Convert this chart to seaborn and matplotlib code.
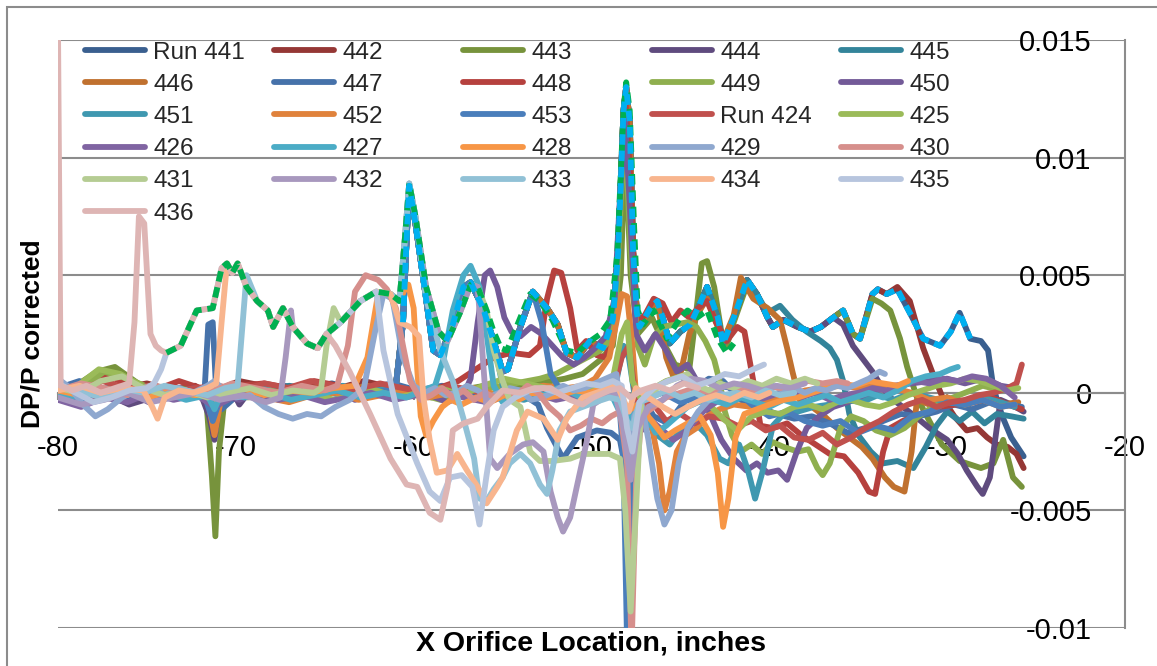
import matplotlib
matplotlib.use("Agg")
import matplotlib.pyplot as plt
import seaborn as sns
from matplotlib.lines import Line2D
from matplotlib.patches import Rectangle

sns.set_theme(style="white")
plt.rcParams["font.family"] = ["Liberation Sans", "DejaVu Sans"]
plt.rcParams["lines.solid_capstyle"] = "round"
plt.rcParams["lines.solid_joinstyle"] = "round"

# ---------------------------------------------------------------------------
# Data (DP/P values in units of 1e-3, x in inches)
# ---------------------------------------------------------------------------
X_TICKS = [-80, -70, -60, -50, -40, -30, -20]
X_TICK_LABELS = ["-80", "-70", "-60", "-50", "-40", "-30", "-20"]
Y_TICKS = [0.015, 0.01, 0.005, 0.0, -0.005, -0.01]
Y_TICK_LABELS = ["0.015", "0.01", "0.005", "0", "-0.005", "-0.01"]

# shared upstream ridge traced by the 424-436 runs (green dashed)
GREEN_X = [-73.9, -73.1, -72.2, -71.3, -70.8, -70.5, -70.2, -69.9, -69.4, -68.8,
           -68.2, -67.9, -67.35, -66.8, -66.0, -65.4, -64.9, -64.1, -63.0, -62.1,
           -61.3, -60.8, -60.5, -60.25, -59.9, -59.3, -58.6, -58.1, -57.4, -56.8,
           -56.4, -55.9, -55.5, -55.1, -54.75, -54.0, -53.45, -52.9, -52.2, -51.4,
           -50.8, -50.25, -49.5, -48.95, -48.55, -48.2, -48.05, -47.85, -47.6, -47.4,
           -47.1, -46.5, -45.75, -45.0, -44.6, -44.06, -43.5, -42.9, -42.4, -42.0]
GREEN_Y = [1.7, 2.0, 3.5, 3.6, 5.3, 5.5, 5.1, 5.5, 4.5, 3.9,
           3.5, 2.8, 3.6, 2.8, 2.1, 1.9, 2.5, 3.0, 3.9, 4.3,
           4.2, 3.9, 6.5, 8.9, 7.5, 4.5, 2.6, 2.2, 3.4, 4.6,
           4.5, 3.5, 2.6, 1.9, 1.8, 3.2, 4.2, 3.9, 3.1, 1.8,
           1.7, 2.1, 2.5, 3.1, 5.9, 12.0, 13.2, 12.0, 7.0, 3.5,
           2.9, 3.5, 2.3, 3.2, 3.5, 3.2, 3.5, 2.3, 1.7, 2.1]

# shared ridge traced by the 441-453 runs (cyan dashed)
CYAN_X = [-61.0, -60.6, -60.4, -60.25, -59.9, -59.3, -58.9, -58.5, -57.8, -57.2,
          -56.8, -56.1, -55.5, -55.0, -54.7, -54.0, -53.3, -52.5, -51.9, -51.4,
          -50.8, -50.1, -49.35, -48.8, -48.5, -48.2, -48.05, -47.85, -47.66, -47.45,
          -47.3, -46.7, -46.3, -46.0, -45.6, -45.0, -44.45, -43.9, -43.5, -42.9,
          -42.6, -42.0, -41.25, -40.7, -40.1, -39.8, -39.2, -38.4, -37.7, -37.1,
          -36.4, -35.85, -35.3, -34.9, -34.2, -33.9, -33.4, -32.8, -32.1, -31.35,
          -30.4, -29.8, -29.3, -28.7]
CYAN_Y = [0.3, 3.0, 6.5, 8.8, 7.2, 4.0, 1.8, 1.6, 2.9, 4.5,
          4.7, 3.6, 2.2, 0.9, 1.0, 2.8, 4.3, 3.6, 2.9, 1.7,
          1.5, 2.2, 1.9, 3.1, 6.0, 12.0, 13.0, 11.5, 6.0, 3.4,
          2.8, 3.6, 3.9, 3.2, 2.1, 2.6, 2.9, 3.8, 4.5, 3.2,
          2.1, 3.2, 4.8, 4.2, 3.2, 2.8, 3.1, 2.8, 2.6, 2.8,
          3.2, 3.5, 2.5, 2.3, 4.2, 4.4, 4.2, 4.4, 3.4, 2.3,
          2.0, 2.6, 3.4, 2.3]

h441_x = [-80, -78.7, -77.3, -76.0, -74.6, -73.2, -72.0, -71.5, -71.2, -70.9, -70.2, -68.8, -67.4, -66.0, -64.6, -63.2, -61.8]
h441_y = [0.3, -0.2, 0.1, -0.3, 0.0, 0.2, 0.1, -0.8, -1.6, -0.2, 0.3, 0.1, 0.3, 0.2, 0.4, 0.1, 0.2]
t441_x = [-28.1, -27.7, -27.4, -26.9, -26.4, -25.7]
t441_y = [2.2, 1.8, 0.2, -1.0, -1.9, -2.7]

h442_x = [-80, -78.9, -77.6, -76.4, -75.0, -73.6, -72.3, -71.6, -71.2, -70.8, -69.8, -68.5, -67.0, -65.6, -64.2, -62.8, -61.7]
h442_y = [0.1, 0.3, 0.6, 0.2, 0.4, 0.1, 0.3, 0.0, -1.2, 0.2, 0.5, 0.3, 0.1, 0.4, 0.2, 0.5, 0.3]
t442_x = [-32.8, -32.1, -31.35, -30.8, -30.2, -29.6, -28.9, -28.3, -27.75, -27.2, -26.6, -26.1, -25.7]
t442_y = [4.5, 3.9, 1.9, 0.8, -0.3, -1.0, -1.6, -1.5, -1.9, -2.2, -2.3, -2.6, -3.2]

h443_x = [-80, -79.0, -77.8, -76.8, -75.5, -74.2, -72.8, -71.7, -71.35, -71.15, -70.95, -70.6, -69.5, -68.0, -66.5,
          -65.0, -63.5, -62.0, -60.5, -59.0, -57.5, -56.0, -54.5, -53.0, -51.5, -50.5, -49.5, -48.8, -48.35, -48.1,
          -47.8, -47.4, -46.6, -46.0, -45.3, -44.5, -44.1, -43.8, -43.5, -43.1, -42.7, -42.4, -42.0, -41.3]
h443_y = [-0.2, 0.3, 0.9, 1.1, 0.4, 0.0, 0.2, 0.1, -3.5, -6.1, -2.5, 0.0, 0.2, 0.1, 0.0,
          0.2, 0.1, 0.3, 0.0, -0.2, 0.1, 0.3, 0.2, 0.4, 0.6, 0.8, 1.4, 2.0, 5.0, 10.8,
          5.0, 2.5, 3.2, 2.2, 1.2, 1.0, 3.5, 5.5, 5.6, 4.5, 2.6, 2.0, 3.0, 4.5]
t443_x = [-34.2, -33.7, -33.2, -32.65, -32.25, -31.7, -31.0, -30.3, -29.3, -28.1, -27.4, -26.85, -26.3, -25.8]
t443_y = [4.0, 3.8, 3.5, 2.3, 1.1, -0.2, -1.2, -2.2, -2.9, -3.2, -3.0, -2.0, -3.6, -4.0]

h444_x = [-80, -78.8, -77.4, -76.0, -74.7, -73.3, -72.0, -71.5, -71.2, -70.9, -70.2, -69.8, -69.3, -68.0, -66.6, -65.2, -63.8, -62.5, -61.6]
h444_y = [-0.1, -0.4, 0.0, -0.5, -0.2, 0.1, 0.0, -1.0, -2.0, -0.3, 0.1, -0.5, 0.0, 0.2, -0.1, 0.0, 0.2, 0.0, 0.1]
t444_x = [-35.85, -35.3, -34.7, -34.2, -33.8, -33.2, -32.5, -31.8, -31.0, -30.0, -29.4, -28.9, -28.3, -28.0, -27.6, -27.3, -27.0, -26.4, -25.7]
t444_y = [2.9, 2.0, 1.4, 0.9, 0.4, -0.2, -0.6, -1.0, -1.5, -2.0, -2.6, -3.3, -4.0, -4.3, -3.6, -2.0, -0.3, -0.5, -0.8]

h445_x = [-80, -78.5, -77.0, -75.6, -74.2, -72.8, -71.6, -71.2, -70.8, -69.8, -68.4, -67.0, -65.6, -64.2, -62.8, -61.6]
h445_y = [0.0, 0.2, -0.1, 0.3, 0.1, -0.2, 0.0, -1.3, -0.1, 0.2, 0.0, 0.3, 0.1, 0.2, -0.1, 0.2]
t445_x = [-40.1, -39.4, -38.7, -37.9, -37.1, -36.6, -36.2, -35.85, -35.5, -35.0, -34.3, -33.6, -32.8, -31.9, -31.2,
          -30.6, -30.0, -29.3, -28.6, -27.9, -27.2, -26.4, -25.7]
t445_y = [3.4, 3.7, 3.1, 2.6, 2.2, 1.9, 1.4, 0.5, -0.9, -1.8, -2.5, -3.0, -2.9, -3.2, -2.3,
          -1.4, -0.8, -1.2, -0.8, -1.3, -0.9, -1.0, -1.1]

h446_x = [-80, -78.7, -77.2, -75.8, -74.4, -73.0, -71.6, -71.2, -70.8, -69.6, -68.2, -66.8, -65.4, -64.0, -62.6, -61.5]
h446_y = [0.1, -0.1, 0.2, 0.0, -0.3, 0.1, 0.0, -1.6, -0.2, 0.1, -0.2, 0.0, 0.2, 0.1, 0.3, 0.0]
t446_x = [-45.8, -45.4, -45.0, -44.5, -44.0, -43.5, -43.0, -42.6, -42.0, -41.6, -40.9, -40.1, -39.4, -39.0, -38.7,
          -38.3, -37.6, -36.9, -36.2, -35.5, -34.8, -34.2, -33.5, -33.0, -32.4, -32.0, -31.7, -31.0, -30.0, -29.0,
          -28.0, -27.0, -26.0]
t446_y = [1.5, 0.7, 0.8, 2.5, 3.4, 4.0, 3.0, 2.2, 3.3, 4.9, 4.0, 3.6, 3.1, 1.9, 0.9,
          -0.3, -0.6, -1.0, -1.5, -1.9, -2.3, -2.8, -3.6, -4.0, -4.2, -2.5, -0.3, -0.5, -0.2, -0.4,
          -0.3, -0.5, -0.4]

r447_x = [-80, -78.8, -77.5, -76.1, -74.7, -73.3, -72.2, -71.75, -71.55, -71.3, -71.1, -70.8, -69.6, -68.2, -66.8,
          -65.4, -64.0, -62.6, -61.2, -59.8, -58.4, -57.0, -55.6, -54.2, -53.0, -52.5, -51.6, -50.8, -49.7, -48.9,
          -48.4, -48.15, -47.95, -47.75, -47.4, -46.9, -46.5, -45.7, -45.0, -44.2, -43.4, -42.6, -41.6, -40.6, -39.6,
          -38.6, -37.6, -36.6, -35.6, -34.6, -33.6, -32.6, -31.6, -30.6, -29.6, -28.6, -27.6, -26.6, -25.8]
r447_y = [0.2, 0.5, 0.1, -0.2, 0.3, 0.0, 0.1, 0.2, 2.9, 3.0, 0.0, -0.7, 0.1, 0.3, 0.0,
          0.1, -0.1, 0.2, 0.4, 0.1, 0.3, 0.0, -0.2, 0.1, -0.5, -1.5, -2.8, -1.9, -1.6, -1.7,
          -2.0, -3.0, -3.3, -2.0, -1.0, -0.5, -1.0, -1.3, -0.6, 0.2, 0.6, 0.5, -0.3, -0.6, -0.9,
          -1.1, -1.0, -1.3, -1.7, -1.5, -1.2, -0.9, -1.0, -0.8, -0.5, -0.7, -0.4, -0.5, -0.6]

h448_x = [-80, -78.6, -77.3, -76.0, -74.6, -73.2, -72.0, -71.5, -71.2, -70.9, -69.8, -68.4, -67.0, -65.6, -64.2, -62.8, -61.4, -60.0, -58.6]
h448_y = [0.0, 0.4, 0.8, 0.3, 0.1, 0.5, 0.2, 0.0, -1.1, 0.1, 0.3, 0.4, 0.2, 0.5, 0.3, 0.1, 0.3, 0.0, 0.2]
t448_x = [-57.5, -56.5, -55.5, -54.5, -53.5, -52.9, -52.5, -52.1, -51.7, -51.2, -50.8, -50.3, -49.7, -49.2, -48.8,
          -48.5, -48.1, -47.8, -47.5, -47.0, -46.5, -46.0, -45.5, -45.0, -44.5, -44.0, -43.5, -43.0, -42.4, -41.8,
          -41.4, -40.9, -40.5, -39.8, -39.0, -38.2, -37.4, -36.6, -35.8, -35.0, -34.4, -34.05, -33.6, -33.2, -32.5,
          -31.5, -30.5, -29.5, -28.5, -27.5, -26.6, -25.8]
t448_y = [0.5, 1.0, 1.5, 1.7, 1.6, 2.0, 4.0, 5.2, 5.1, 3.6, 1.8, 2.2, 1.6, 1.5, 2.5,
          6.0, 12.5, 9.0, 3.0, 3.3, 4.0, 3.8, 3.0, 3.5, 3.2, 3.6, 3.9, 3.0, 2.2, 2.8,
          2.6, 0.5, -1.4, -1.5, -1.3, -1.8, -2.2, -2.6, -2.7, -3.4, -4.2, -4.3, -2.5, -1.5, -1.2,
          -0.9, -0.6, -0.5, -0.4, -0.2, -0.5, -0.7]

r449_x = [-80, -78.7, -77.4, -76.1, -74.8, -73.5, -72.2, -71.5, -71.2, -70.9, -69.7, -68.3, -66.9, -65.5, -64.1,
          -62.7, -61.3, -59.9, -58.5, -57.1, -55.7, -54.3, -52.9, -52.0, -51.5, -50.5, -49.5, -49.0, -48.6, -48.3,
          -48.1, -47.8, -47.4, -47.0, -46.5, -46.0, -45.3, -44.6, -44.1, -43.6, -43.1, -42.8, -42.5, -42.1, -41.6,
          -41.0, -40.4, -39.8, -39.2, -38.4, -37.8, -37.3, -37.0, -36.6, -36.0, -35.4, -34.7, -34.0, -33.2, -32.4,
          -31.6, -30.8, -30.0, -29.0, -28.0, -27.0, -26.2]
r449_y = [-0.3, 0.2, 0.9, 0.6, 0.2, 0.1, -0.1, 0.0, -0.9, 0.0, 0.2, -0.1, 0.1, 0.0, 0.2,
          -0.2, 0.1, 0.0, -0.3, 0.1, 0.2, 0.4, 0.6, 0.8, 1.0, 1.4, 1.8, 2.2, 4.0, 9.0,
          11.0, 6.0, 2.0, 1.2, 2.4, 2.8, 2.9, 3.0, 2.8, 2.2, 1.4, 0.5, -0.8, -1.8, -2.5,
          -2.2, -2.6, -2.1, -2.3, -2.5, -2.4, -3.2, -3.5, -3.0, -1.5, -1.0, -1.2, -1.6, -1.8, -1.5,
          -1.0, -0.6, -0.3, 0.0, 0.3, 0.1, 0.3]

r450_x = [-80, -78.8, -77.5, -76.2, -74.9, -73.6, -72.3, -71.5, -71.2, -70.9, -69.8, -68.5, -67.2, -65.9, -64.6,
          -63.3, -62.0, -60.7, -59.4, -58.1, -57.2, -56.8, -56.4, -56.0, -55.7, -55.3, -54.9, -54.5, -54.0, -53.4,
          -52.8, -52.2, -51.6, -51.0, -50.4, -49.8, -49.2, -48.7, -48.35, -48.1, -47.85, -47.5, -47.0, -46.4, -45.8,
          -45.2, -44.6, -44.0, -43.4, -42.7, -42.0, -41.3, -40.7, -40.1, -39.5, -39.0, -38.5, -37.9, -37.2, -36.4,
          -35.6, -34.8, -34.0, -33.0, -32.0, -31.0, -30.0, -29.0, -28.0, -27.0, -26.2]
r450_y = [0.2, -0.3, -0.1, 0.1, -0.4, 0.0, 0.2, 0.0, -1.4, -0.1, -0.3, 0.1, -0.2, 0.0, 0.2,
          -0.3, 0.1, -0.2, 0.0, -0.4, -0.1, 0.6, 3.0, 5.0, 5.2, 4.5, 3.2, 2.6, 2.4, 2.8,
          2.5, 2.0, 1.5, 1.2, 1.5, 1.9, 2.4, 4.0, 9.0, 11.5, 8.0, 2.5, 1.8, 2.5, 1.8,
          0.9, 1.2, 0.4, -0.8, -2.0, -2.8, -3.3, -3.0, -3.4, -3.3, -3.7, -2.6, -1.5, -1.0, -0.6,
          -0.4, -0.2, 0.1, 0.3, 0.4, 0.5, 0.6, 0.4, 0.6, 0.3, 0.2]

h451_x = [-80, -78.6, -77.1, -75.7, -74.3, -72.9, -71.6, -71.2, -70.8, -69.6, -68.2, -66.8, -65.4, -64.0, -62.6, -61.5]
h451_y = [0.1, 0.3, 0.0, 0.2, -0.1, 0.1, 0.0, -0.9, 0.2, 0.0, 0.2, -0.1, 0.1, 0.3, 0.0, 0.2]
t451_x = [-55.0, -54.5, -53.8, -53.0, -52.2, -51.5, -50.8, -50.0, -49.3, -48.6, -48.2, -47.9, -47.5, -47.0, -46.3,
          -45.6, -45.0, -44.3, -43.5, -42.8, -42.3, -41.7, -41.2, -40.8, -40.4, -39.8, -39.2, -38.4, -37.5, -36.6,
          -35.7, -34.8, -33.9, -33.0, -32.0, -31.0, -30.0, -29.0, -28.0, -27.0, -26.2]
t451_y = [0.3, -0.2, -0.3, -0.1, 0.2, 0.0, -0.2, 0.1, 0.3, 0.5, 2.0, 1.5, -0.5, -1.2, -1.8,
          -2.2, -1.6, -1.2, -1.8, -2.8, -3.0, -2.2, -3.3, -4.5, -3.4, -1.4, -0.9, -0.8, -0.6, -0.5,
          -0.3, -0.4, -0.1, -0.3, 0.0, -0.2, -0.4, -0.5, -0.2, -0.4, -0.6]

r452_x = [-80, -78.9, -77.6, -76.3, -75.0, -73.7, -72.4, -71.6, -71.2, -70.8, -69.6, -68.3, -67.0, -65.7, -64.4,
          -63.1, -61.8, -60.5, -59.2, -57.9, -56.6, -55.3, -54.0, -52.7, -51.4, -50.5, -49.8, -49.0, -48.6, -48.3,
          -48.0, -47.7, -47.4, -47.0, -46.6, -46.2, -45.9, -45.6, -45.2, -44.7, -44.1, -43.5, -42.8, -42.0, -41.0,
          -40.0, -39.0, -38.0, -37.0, -36.0, -35.0, -34.0, -33.0, -32.0, -31.0, -30.0, -29.0, -28.0, -27.0, -26.2]
r452_y = [-0.1, 0.1, -0.2, 0.0, 0.2, -0.1, 0.0, -0.2, -1.8, -0.1, 0.1, -0.2, -0.4, -0.1, 0.0,
          -0.3, -0.1, 0.1, -0.2, 0.0, 0.2, -0.1, 0.1, 0.3, 0.2, 0.3, 0.6, 1.5, 3.0, 4.2,
          4.1, 2.0, -1.0, -0.6, -1.5, -3.0, -5.0, -4.2, -2.5, -1.8, -1.5, -1.0, -0.7, -0.5, -0.6,
          -0.3, -0.2, 0.1, 0.2, 0.3, 0.2, 0.4, 0.2, 0.0, -0.3, -0.2, -0.5, -0.3, -0.6, -0.5]

h453_x = [-80, -78.7, -77.3, -75.9, -74.5, -73.1, -71.8, -71.3, -70.9, -69.9, -68.5, -67.1, -65.7, -64.3, -62.9, -61.6]
h453_y = [0.0, -0.3, 0.2, 0.0, -0.2, 0.1, 0.0, -1.2, -0.3, 0.1, -0.1, 0.2, 0.0, 0.1, -0.2, 0.1]
t453_x = [-52.8, -52.3, -51.9, -51.2, -50.5, -49.8, -49.0, -48.5, -48.2, -48.0, -47.8, -47.5, -46.8, -46.0, -45.0,
          -44.0, -43.0, -42.0, -41.0, -40.0, -39.0, -38.0, -37.0, -36.0, -35.0, -34.0, -33.0, -32.0, -31.0, -30.0,
          -29.0, -28.0, -27.0, -26.2]
t453_y = [3.0, 0.8, 0.3, 0.1, -0.4, -0.2, 0.1, 0.3, -3.0, -10.6, -4.0, -0.5, -0.2, 0.0, -0.4,
          -0.2, 0.3, 0.2, -0.5, -1.0, -0.8, -1.2, -1.4, -1.2, -1.7, -1.4, -1.6, -1.0, -0.8, -0.4,
          -0.5, -0.3, -0.6, -0.5]

r424_x = [-80, -78.8, -77.5, -76.2, -74.9, -73.6, -72.3, -71.0, -69.7, -68.4, -67.1, -65.8, -64.5, -63.2, -61.9,
          -60.6, -59.3, -58.0, -56.7, -55.4, -54.1, -52.8, -51.5, -50.2, -48.9, -48.3, -47.9, -47.5, -46.5, -45.8,
          -45.0, -44.2, -43.4, -42.6, -41.8, -41.0, -40.2, -39.4, -38.6, -37.8, -37.0, -36.2, -35.4, -34.6, -33.8,
          -33.0, -32.2, -31.4, -30.6, -29.8, -29.0, -28.2, -27.4, -26.6, -26.1, -25.8]
r424_y = [0.4, 0.1, 0.5, 0.2, 0.3, 0.0, 0.2, 0.3, 0.1, 0.4, 0.2, 0.5, 0.3, 0.1, 0.4,
          0.2, 0.0, 0.3, 0.1, -0.2, 0.0, 0.2, -0.1, 0.1, -0.2, 1.5, 2.0, -0.3, -0.5, -1.2,
          -0.9, -1.3, -1.0, -1.1, -1.4, -1.2, -1.6, -1.4, -1.9, -2.0, -1.7, -2.2, -1.9, -1.5, -1.2,
          -0.8, -0.5, -0.3, -0.6, -0.4, -0.3, -0.1, 0.0, 0.2, 0.4, 1.2]

r425_x = [-80, -78.9, -77.7, -76.5, -75.3, -74.1, -72.9, -71.7, -70.5, -69.3, -68.1, -66.9, -65.7, -64.5, -63.3,
          -62.1, -60.9, -59.7, -58.5, -57.3, -56.1, -54.9, -53.7, -52.5, -51.3, -50.1, -49.5, -48.8, -48.3, -48.0,
          -47.7, -47.2, -46.5, -45.8, -45.0, -44.2, -43.4, -42.6, -41.8, -41.0, -40.2, -39.4, -38.6, -37.8, -37.0,
          -36.2, -35.4, -34.6, -33.8, -33.0, -32.2, -31.4, -30.6, -29.8, -29.0, -28.2, -27.4, -26.6, -26.0]
r425_y = [-0.2, 0.3, 1.0, 0.8, 0.3, 0.0, -0.2, 0.1, 0.0, -0.2, 0.1, -0.1, 0.0, -0.3, -0.1,
          0.1, -0.2, 0.0, 0.2, -0.1, 0.3, 0.6, 0.4, 0.2, 0.0, 0.1, 0.3, 0.6, 2.5, 3.0,
          0.5, -0.3, 0.2, 0.5, 0.7, 0.3, -0.5, -1.1, -1.6, -1.0, -0.8, -0.9, -0.6, -0.5, -0.7,
          -0.4, -0.3, -0.5, -0.6, -0.4, -0.1, 0.1, 0.3, 0.4, 0.6, 0.5, 0.3, 0.1, 0.2]

r426_x = [-80, -78.7, -77.4, -76.1, -74.8, -73.5, -72.2, -71.2, -70.2, -68.9, -67.6, -66.3, -65.0, -63.7, -62.4,
          -61.1, -59.8, -58.5, -57.2, -55.9, -54.6, -53.3, -52.0, -50.7, -49.4, -48.4, -47.8, -47.2, -46.6, -46.0,
          -45.4, -44.8, -44.2, -43.6, -43.0, -42.2, -41.4, -40.6, -39.8, -39.0, -38.2, -37.4, -36.6, -35.8, -35.0,
          -34.2, -33.4, -32.6, -31.8, -31.0, -30.2, -29.4, -28.6, -27.8, -27.0, -26.2]
r426_y = [-0.3, -0.6, -0.2, -0.4, 0.0, -0.3, -0.1, -0.6, -0.2, 0.0, -0.3, -0.1, -0.4, -0.2, 0.0,
          -0.3, -0.1, 0.1, -0.2, -0.4, -0.1, 0.0, -0.3, -0.1, 0.1, -0.2, -1.0, -1.6, -1.2, -1.6,
          -2.0, -1.7, -1.2, -0.7, -0.4, -0.2, 0.0, -0.3, -0.1, 0.1, -0.2, 0.0, -0.3, -0.1, 0.0,
          0.2, 0.1, 0.3, 0.5, 0.4, 0.6, 0.5, 0.7, 0.6, 0.3, -0.2]

r427_x = [-80, -78.8, -77.6, -76.4, -75.2, -74.0, -72.8, -71.6, -71.2, -70.8, -69.5, -68.2, -66.9, -65.6, -64.3,
          -63.0, -61.7, -60.4, -59.5, -58.8, -58.3, -57.8, -57.2, -56.8, -56.3, -55.9, -55.5, -55.0, -54.3, -53.5,
          -52.7, -51.9, -51.1, -50.3, -49.5, -48.8, -48.3, -48.0, -47.6, -47.0, -46.4, -45.8, -45.2, -44.6, -44.0,
          -43.2, -42.4, -41.6, -40.8, -40.0, -39.2, -38.4, -37.6, -36.8, -36.0, -35.2, -34.4, -33.6, -32.8, -32.0,
          -31.2, -30.4, -29.8, -29.4]
r427_y = [0.0, -0.2, 0.1, -0.1, 0.2, 0.0, -0.3, -0.1, -0.7, 0.0, -0.2, 0.0, -0.3, -0.1, 0.1,
          -0.2, 0.0, -0.2, 0.1, 0.3, 1.5, 3.5, 5.0, 5.4, 4.5, 2.5, 0.3, -0.4, -0.2, 0.1,
          -0.1, 0.2, 0.0, -0.3, 0.0, -0.2, -1.0, -1.3, -0.6, -0.9, -1.7, -1.4, -1.0, -0.6, -0.4,
          -0.3, -0.5, -0.2, -0.4, -0.6, -0.3, -0.5, -0.3, -0.1, -0.4, -0.2, 0.0, -0.2, 0.1, 0.5,
          0.7, 0.8, 1.0, 1.1]

r428_x = [-80, -78.8, -77.5, -76.2, -74.9, -73.6, -72.3, -71.0, -69.7, -68.4, -67.1, -65.8, -64.5, -63.3, -62.6,
          -62.0, -61.3, -60.8, -60.5, -60.3, -60.0, -59.8, -59.6, -59.3, -58.9, -58.4, -57.9, -57.3, -56.5, -55.7,
          -54.9, -54.1, -53.3, -52.5, -51.7, -50.9, -50.1, -49.3, -48.6, -48.0, -47.4, -46.6, -45.9, -45.3, -44.6,
          -43.9, -43.3, -42.9, -42.6, -42.3, -41.9, -41.4, -40.7, -40.0, -39.2, -38.4, -37.6, -36.8, -36.0, -35.2,
          -34.4, -33.6, -32.8, -32.2]
r428_y = [0.1, -0.1, 0.2, 0.0, -0.2, 0.1, -0.1, 0.0, 0.2, -0.1, 0.1, 0.0, 0.2, 0.3, 1.5,
          4.2, 4.2, 3.9, 4.4, 4.6, 3.6, 1.0, -1.0, -1.8, -1.2, -0.6, -0.3, -0.5, -0.2, -0.4,
          -0.1, -0.3, 0.0, -0.2, -0.1, 0.1, 0.0, 0.2, 0.3, -0.8, -0.5, -1.2, -1.9, -1.6, -1.3,
          -1.0, -1.8, -3.4, -5.7, -4.5, -1.9, -0.9, -0.7, -0.5, -0.3, -0.2, 0.0, 0.2, 0.4, 0.3,
          0.5, 0.4, 0.3, 0.5]

r429_x = [-80, -79.3, -78.6, -77.9, -77.2, -76.4, -75.6, -74.8, -74.0, -73.2,
          -72.4, -71.6, -71.2, -70.8, -70.0, -69.2, -68.4, -67.6, -66.8, -66.0,
          -65.2, -64.4, -63.6, -62.8, -62.2, -61.7, -61.2, -60.6, -60.0, -59.4,
          -58.8, -58.2, -57.6, -57.0, -56.4, -55.8, -55.2, -54.6, -54.0, -53.4,
          -52.8, -52.2, -51.6, -51.0, -50.4, -49.8, -49.2, -48.6, -48.2, -47.9,
          -47.6, -47.2, -46.8, -46.3, -45.9, -45.5, -45.1, -44.6, -44.0, -43.4,
          -42.8, -42.2, -41.6, -41.0, -40.4, -39.8, -39.2, -38.6, -38.0, -37.4,
          -36.8, -36.2, -35.6, -35.0, -34.4, -33.8, -33.5]
r429_y = [0.6, 0.2, -0.5, -1.0, -0.7, -0.2, 0.1, 0.3, -0.1, 0.2,
          0.0, 0.3, 0.5, 0.2, -0.2, -0.1, -0.6, -0.9, -1.1, -0.9,
          -1.0, -0.6, -0.3, 0.2, 2.5, 4.2, 4.0, 1.5, 0.3, 0.0,
          0.2, -0.1, 0.0, 0.3, 0.1, -0.2, 0.0, 0.2, 0.1, -0.3,
          -0.2, 0.0, 0.3, 0.1, 0.2, 0.4, 0.6, 0.8, -1.5, -3.2,
          -1.0, -0.4, -2.0, -4.5, -5.6, -5.0, -3.0, -1.5, -0.8, -0.3,
          0.0, -0.2, 0.1, 0.2, 0.0, 0.3, 0.1, 0.2, 0.0, 0.2,
          0.1, 0.3, 0.2, 0.4, 0.6, 0.9, 0.8]

r430_x = [-80, -78.7, -77.4, -76.1, -74.8, -73.5, -72.2, -71.2, -70.2, -68.9, -67.6, -66.3, -65.0, -64.3, -63.7,
          -63.3, -62.7, -62.0, -61.5, -61.0, -60.6, -60.2, -59.6, -59.0, -58.4, -57.8, -57.2, -56.6, -56.0, -55.4,
          -54.8, -54.2, -53.6, -53.0, -52.4, -51.8, -51.2, -50.6, -50.0, -49.4, -48.9, -48.4, -48.0, -47.75, -47.5,
          -47.2, -46.5, -45.8, -45.0, -44.2, -43.4, -42.6, -41.8, -41.0, -40.2, -39.4, -38.6, -37.8, -37.0, -36.2,
          -35.6]
r430_y = [0.1, 0.4, 0.2, -0.1, 0.3, 0.2, 0.0, 0.1, 0.4, 0.2, 0.0, 0.3, 0.1, 0.3, 2.0,
          4.3, 5.0, 4.8, 4.4, 3.6, 2.0, 0.5, -0.3, -0.1, 0.2, -0.2, 0.1, -0.3, 0.0, -0.2,
          0.1, -0.1, 0.3, 0.0, -0.6, -1.0, -1.6, -1.4, -1.1, -1.3, -1.0, -0.8, -3.0, -11.0, -4.0,
          -1.0, -0.6, -0.2, 0.0, 0.2, 0.0, 0.3, 0.2, 0.0, 0.3, 0.2, 0.4, 0.5, 0.4, 0.5,
          0.4]

h431_x = [-80, -78.8, -77.6, -76.4, -75.2, -74.0, -72.8, -71.6, -70.4, -69.2, -68.0, -66.8, -65.6, -65.2, -64.9, -64.5]
h431_y = [0.2, 0.0, 0.5, 0.7, 0.2, -0.1, 0.1, -0.2, 0.0, 0.2, -0.1, 0.1, 0.0, 0.2, 2.0, 3.6]
t431_x = [-55.5, -55.0, -54.6, -54.0, -53.45, -52.9, -52.2, -51.2, -50.5, -49.7, -49.0, -48.4, -48.1, -47.8, -47.5,
          -47.2, -46.6, -46.0, -45.3, -44.6, -44.0, -43.4, -42.8, -42.0, -41.2, -40.4, -39.6, -38.8, -38.0, -37.3]
t431_y = [1.8, 0.5, -0.3, -0.6, -2.5, -2.9, -2.9, -2.8, -2.6, -2.6, -2.6, -2.8, -5.0, -9.3, -5.0,
          -0.3, 0.0, 0.4, 0.6, 0.8, 0.3, 0.1, 0.4, 0.2, 0.5, 0.3, 0.6, 0.4, 0.6, 0.4]

h432_x = [-80, -78.7, -77.4, -76.1, -74.8, -73.5, -72.2, -70.9, -69.6, -68.3, -67.5, -67.2, -66.9]
h432_y = [-0.2, -0.5, -0.3, 0.0, -0.4, -0.2, 0.0, -0.3, -0.1, -0.4, -0.2, 1.5, 3.5]
t432_x = [-55.7, -55.3, -54.6, -53.85, -53.3, -52.7, -52.3, -51.9, -51.6, -51.2, -50.8, -50.25, -49.9, -49.3, -48.7,
          -48.2, -47.8, -47.4, -46.8, -46.0, -45.2, -44.4, -43.6, -42.8, -42.0, -41.2, -40.4, -39.6, -38.8, -38.0]
t432_y = [-2.8, -3.2, -2.6, -2.2, -2.1, -2.5, -4.2, -5.3, -5.9, -5.3, -3.9, -2.0, -0.5, -0.2, 0.0,
          -1.5, -3.7, -1.5, -0.6, -0.3, 0.3, 0.6, 0.5, 0.2, 0.4, 0.3, 0.1, 0.3, 0.2, 0.4]

h433_x = [-80, -78.8, -77.6, -76.4, -75.2, -74.0, -72.8, -71.6, -70.6, -69.9, -69.4]
h433_y = [0.3, 0.1, -0.2, 0.2, 0.0, 0.3, 0.1, -0.1, 0.2, 0.3, 5.0]
t433_x = [-59.3, -58.5, -57.8, -57.2, -56.6, -56.3, -55.9, -55.5, -55.0, -54.6, -54.0, -53.45, -52.9, -52.5, -52.2,
          -51.8, -51.2, -50.5, -49.8, -49.0, -48.4, -48.0, -47.7, -47.3, -46.6, -45.8, -45.0, -44.2, -43.4, -42.6,
          -41.8, -41.0, -40.2, -39.4, -38.6]
t433_y = [4.0, 1.8, 0.5, -1.1, -2.8, -4.5, -4.6, -4.1, -3.6, -3.0, -2.6, -3.0, -3.9, -4.3, -3.3,
          -1.6, -0.8, -0.6, -0.4, -0.2, -0.3, -1.2, -1.5, -0.4, -0.2, 0.1, -0.2, 0.0, -0.3, -0.1,
          0.0, -0.2, 0.1, -0.1, 0.0]

h434_x = [-80, -78.8, -77.6, -76.4, -75.2, -74.7, -74.4, -74.0, -73.2, -72.4, -71.6, -71.1, -70.8]
h434_y = [0.1, 0.3, 0.0, 0.2, 0.1, -0.6, -1.1, -0.2, 0.1, 0.0, 0.2, 0.4, 3.0]
t434_x = [-60.8, -60.2, -59.7, -59.45, -59.1, -58.7, -58.1, -57.55, -57.0, -56.4, -55.9, -55.3, -55.0, -54.2, -53.6,
          -52.7, -51.9, -51.4, -50.5, -49.35, -48.6, -48.2, -47.9, -47.5, -46.8, -46.0, -45.3, -44.6, -43.8, -43.0,
          -42.2, -41.4, -40.6, -40.0]
t434_y = [3.0, 2.8, 2.4, -0.2, -2.0, -3.4, -3.3, -2.6, -3.3, -4.0, -4.7, -4.0, -3.6, -1.6, -0.8,
          -1.1, -2.0, -1.1, -0.2, 0.1, 0.4, -0.3, -0.8, 0.2, -0.2, -0.6, -0.9, -0.6, -0.3, -0.1,
          -0.3, 0.0, -0.2, 0.0]

h435_x = [-80, -79.0, -78.0, -77.0, -76.0, -75.0, -74.6, -74.2]
h435_y = [0.4, 0.0, -0.4, -0.2, 0.1, 0.2, 0.4, 1.0]
t435_x = [-61.7, -60.9, -59.8, -59.1, -58.5, -57.95, -57.3, -56.7, -56.3, -55.9, -55.5, -55.0, -54.3, -53.5, -52.7,
          -51.9, -51.1, -50.3, -49.5, -48.8, -48.3, -48.0, -47.7, -47.3, -46.5, -45.7, -44.9, -44.1, -43.3, -42.5,
          -41.7, -40.9, -40.3]
t435_y = [1.8, -0.9, -3.0, -4.2, -4.6, -3.6, -3.5, -4.0, -5.6, -3.5, -1.6, -0.6, -0.2, 0.1, 0.2,
          0.0, 0.2, 0.4, 0.3, 0.5, 0.3, -1.5, -2.5, -0.4, 0.2, 0.5, 0.7, 0.3, 0.5, 0.8,
          0.7, 1.0, 1.2]

h436_x = [-80, -79.85, -79.2, -78.4, -77.6, -76.8, -76.0, -75.7, -75.45, -75.15, -74.8, -74.5, -74.2]
h436_y = [15.5, 0.3, 0.1, 0.3, 0.0, 0.2, 0.4, 3.0, 7.5, 7.2, 2.5, 2.0, 1.8]
t436_x = [-64.4, -63.6, -62.45, -61.3, -60.4, -59.8, -59.1, -58.5, -58.1, -57.8, -57.2, -56.4, -55.9, -55.0, -54.0,
          -53.2, -52.3, -51.7, -51.2, -50.5, -49.9, -49.0, -48.4, -47.8, -47.2, -46.4, -45.6, -44.8, -44.0]
t436_y = [2.0, 0.9, -0.9, -2.8, -3.9, -4.0, -5.1, -5.4, -4.0, -1.6, -1.3, -1.1, -0.6, 0.1, 0.0,
          0.2, 0.2, -0.1, -0.3, -0.5, -0.2, 0.1, 0.2, -0.2, 0.1, 0.3, 0.1, 0.4, 0.2]

LABELS = ["Run 441", "442", "443", "444", "445", "446", "447", "448", "449", "450",
          "451", "452", "453", "Run 424", "425", "426", "427", "428", "429", "430",
          "431", "432", "433", "434", "435", "436"]
COLORS = ["#3A5F8F", "#953735", "#77933C", "#5F4B7E", "#33849A", "#C0712F", "#4672AA", "#B6413E",
          "#8FAF4F", "#735A98", "#3F98B0", "#E0823C", "#4A7EBB", "#C0504D", "#9BBB59", "#8064A2",
          "#4BACC6", "#F79646", "#8FA8CF", "#D68F8C", "#B5CC93", "#A898BE", "#91C1D6", "#F8B58E",
          "#B7C5DE", "#DEB5B4"]


def span(rx, ry, lo, hi):
    keep = [i for i, v in enumerate(rx) if lo <= v <= hi]
    return [rx[i] for i in keep], [ry[i] for i in keep]


def join(*parts):
    xs, ys = [], []
    for px, py in parts:
        assert len(px) == len(py), (len(px), len(py))
        xs += list(px)
        ys += list(py)
    return xs, ys


SERIES = {
    "Run 441": join((h441_x, h441_y), span(CYAN_X, CYAN_Y, -61.0, -28.7), (t441_x, t441_y)),
    "442": join((h442_x, h442_y), span(CYAN_X, CYAN_Y, -61.0, -33.4), (t442_x, t442_y)),
    "443": join((h443_x, h443_y), span(CYAN_X, CYAN_Y, -40.7, -34.9), (t443_x, t443_y)),
    "444": join((h444_x, h444_y), span(CYAN_X, CYAN_Y, -61.0, -36.4), (t444_x, t444_y)),
    "445": join((h445_x, h445_y), span(CYAN_X, CYAN_Y, -61.0, -40.7), (t445_x, t445_y)),
    "446": join((h446_x, h446_y), span(CYAN_X, CYAN_Y, -61.0, -46.3), (t446_x, t446_y)),
    "447": join((r447_x, r447_y)),
    "448": join((h448_x, h448_y), (t448_x, t448_y)),
    "449": join((r449_x, r449_y)),
    "450": join((r450_x, r450_y)),
    "451": join((h451_x, h451_y), span(CYAN_X, CYAN_Y, -61.0, -55.5), (t451_x, t451_y)),
    "452": join((r452_x, r452_y)),
    "453": join((h453_x, h453_y), span(CYAN_X, CYAN_Y, -61.0, -53.3), (t453_x, t453_y)),
    "Run 424": join((r424_x, r424_y)),
    "425": join((r425_x, r425_y)),
    "426": join((r426_x, r426_y)),
    "427": join((r427_x, r427_y)),
    "428": join((r428_x, r428_y)),
    "429": join((r429_x, r429_y)),
    "430": join((r430_x, r430_y)),
    "431": join((h431_x, h431_y), span(GREEN_X, GREEN_Y, -64.1, -55.9), (t431_x, t431_y)),
    "432": join((h432_x, h432_y), span(GREEN_X, GREEN_Y, -66.8, -56.4), (t432_x, t432_y)),
    "433": join((h433_x, h433_y), span(GREEN_X, GREEN_Y, -68.8, -59.9), (t433_x, t433_y)),
    "434": join((h434_x, h434_y), span(GREEN_X, GREEN_Y, -70.5, -61.3), (t434_x, t434_y)),
    "435": join((h435_x, h435_y), span(GREEN_X, GREEN_Y, -73.9, -62.1), (t435_x, t435_y)),
    "436": join((h436_x, h436_y), span(GREEN_X, GREEN_Y, -73.9, -64.9), (t436_x, t436_y)),
}

# ---------------------------------------------------------------------------
# Figure
# ---------------------------------------------------------------------------
W, H = 1157, 666
fig = plt.figure(figsize=(W / 100, H / 100), dpi=100)
fig.patch.set_facecolor("white")
ax = fig.add_axes([58 / W, 1 - 628 / H, (1125 - 58) / W, (628 - 40) / H])
ax.set_facecolor("white")

GRID = "#8C8C8C"
LW = 4.2
SCALE = 1e-3

for name, color in zip(LABELS, COLORS):
    xs, ys = SERIES[name]
    sns.lineplot(x=xs, y=[v * SCALE for v in ys], color=color, linewidth=LW,
                 sort=False, estimator=None, ax=ax, zorder=3)

sns.lineplot(x=GREEN_X, y=[v * SCALE for v in GREEN_Y], color="#00B050", linewidth=LW,
             linestyle=(0, (1.8, 1.0)), dash_capstyle="butt", sort=False, estimator=None,
             ax=ax, zorder=4)
cx, cy = span(CYAN_X, CYAN_Y, -60.6, -28.7)
sns.lineplot(x=cx, y=[v * SCALE for v in cy], color="#00B0F0", linewidth=LW,
             linestyle=(0, (1.8, 1.0)), dash_capstyle="butt", sort=False, estimator=None,
             ax=ax, zorder=4)

ax.set_xlim(-80, -20)
ax.set_ylim(-0.01, 0.015)

# horizontal gridlines, value axis on the right, category axis through zero
ax.set_axisbelow(True)
ax.yaxis.grid(True, color=GRID, linewidth=1.5)
ax.xaxis.grid(False)
for side in ("top", "left"):
    ax.spines[side].set_visible(False)
ax.spines["right"].set_color(GRID)
ax.spines["right"].set_linewidth(1.5)
ax.spines["bottom"].set_position(("data", 0))
ax.spines["bottom"].set_color(GRID)
ax.spines["bottom"].set_linewidth(1.5)

ax.set_xticks(X_TICKS)
ax.set_xticklabels(X_TICK_LABELS)
ax.tick_params(axis="x", direction="out", length=5, width=1.5, color=GRID,
               pad=25, labelsize=21, labelcolor="black", bottom=True)

ax.yaxis.tick_right()
ax.set_yticks(Y_TICKS)
ax.set_yticklabels(Y_TICK_LABELS)
ax.tick_params(axis="y", length=0, pad=-24, labelsize=21, labelcolor="black")
for lab in ax.get_yticklabels():
    lab.set_horizontalalignment("right")

ax.set_xlabel("X Orifice Location, inches", fontsize=20.5, fontweight="bold", color="black")
ax.xaxis.set_label_coords(0.5, -0.004)
ax.yaxis.set_label_position("left")
ax.set_ylabel("DP/P corrected", fontsize=19, fontweight="bold", color="black")
ax.yaxis.set_label_coords(-0.013, 0.5)

# legend: five equally spaced columns, filled row by row
handles = [Line2D([0], [0], color=c, linewidth=LW, solid_capstyle="round") for c in COLORS]
col_left = [85, 274, 463, 652, 841]
legends = []
for c in range(5):
    idx = list(range(c, len(LABELS), 5))
    leg = ax.legend([handles[i] for i in idx], [LABELS[i] for i in idx],
                    loc="upper left", bbox_to_anchor=(col_left[c] / W, 1 - 41.5 / H),
                    bbox_transform=fig.transFigure, frameon=False, fontsize=17.5,
                    handlelength=2.47, handletextpad=0.33, labelspacing=0.42,
                    borderpad=0, borderaxespad=0, ncol=1)
    legends.append(leg)
for leg in legends[:-1]:
    ax.add_artist(leg)

# chart-area border
fig.add_artist(Rectangle((7 / W, -0.1), 1.2, 1 - 7 / H + 0.1, transform=fig.transFigure,
                         fill=False, edgecolor=GRID, linewidth=1.5, clip_on=False))

fig.savefig("out.png", dpi=100, facecolor="white")
